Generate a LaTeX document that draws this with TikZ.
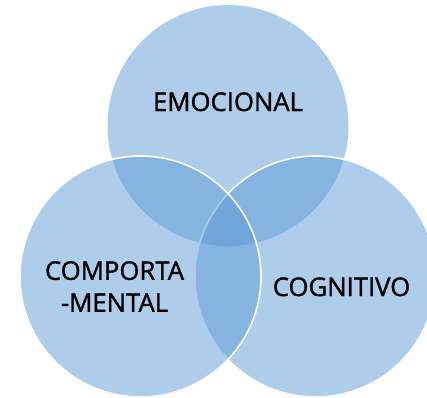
\documentclass[tikz,border=0pt]{standalone}
\usepackage{fontspec}
\setmainfont{Open Sans}
\newfontfamily\lblfont{Open Sans}[FakeBold=1.3]
\definecolor{venn}{RGB}{91,155,213}
\begin{document}
\begin{tikzpicture}[x=1pt,y=-1pt,
  vset/.style={fill=venn,fill opacity=0.5},
  vedge/.style={draw=white,line width=1.6pt},
  lbl/.style={inner sep=0pt,font=\lblfont\fontsize{25.7}{32}\selectfont,text=black}]
\useasboundingbox (0,0) rectangle (427,397);
\coordinate (ct) at (228,125.5);
\coordinate (cr) at (315.5,276.5);
\coordinate (cl) at (140.5,276.5);
\fill[vset] (ct) circle[radius=120.5];
\fill[vset] (cr) circle[radius=120.5];
\draw[vedge] (cr) circle[radius=120.5];
\fill[vset] (cl) circle[radius=120.5];
\draw[vedge] (cl) circle[radius=120.5];
\node[lbl,anchor=base] (emo) at (228,111) {EMOCIONAL};
\node[lbl,anchor=base] (cog) at (341.5,296) {COGNITIVO};
\node[lbl,anchor=center,align=center] (comp) at (114.5,286.5) {COMPORTA\\-MENTAL};
\end{tikzpicture}
\end{document}
